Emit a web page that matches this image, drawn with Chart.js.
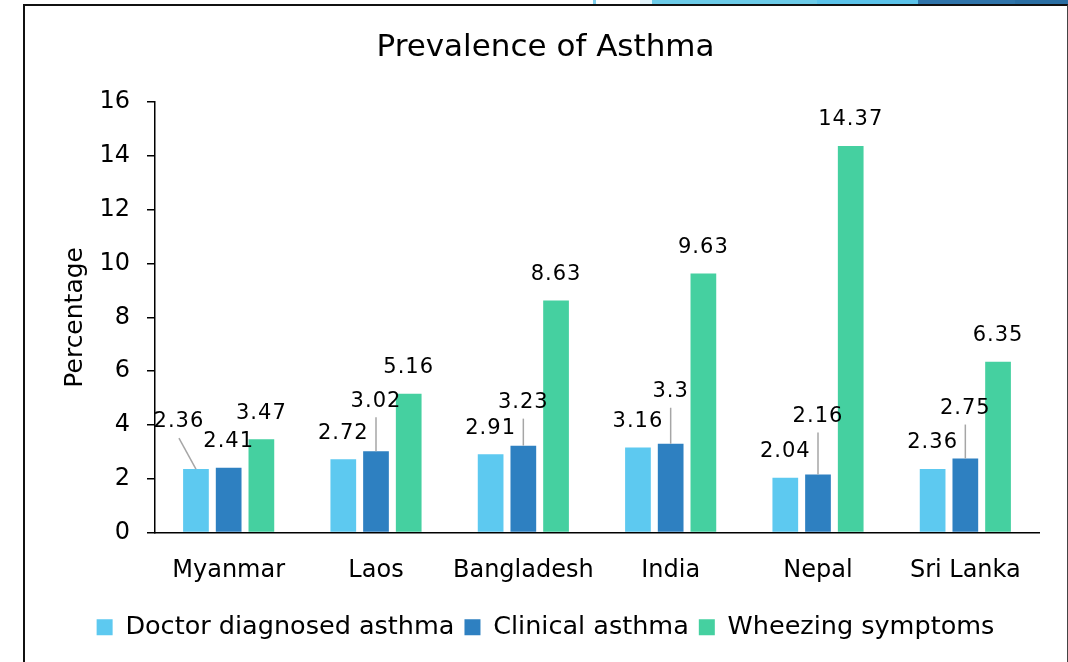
<!DOCTYPE html>
<html>
<head>
<meta charset="utf-8">
<script src="https://cdn.jsdelivr.net/npm/chart.js@4"></script>
<style>
  body { margin: 0; background: #fff; width: 1068px; height: 662px; overflow: hidden; position: relative; }
  .strip { position: absolute; top: 0; height: 4px; }
  #frame { position: absolute; left: 23px; top: 4px; width: 1042px; height: 700px;
           border-left: 2px solid #111; border-top: 2px solid #111; border-right: 1px solid #444; }
  #chartWrap { position: absolute; left: 25px; top: 6px; }
</style>
</head>
<body>
<div class="strip" style="left:593px;width:3px;background:#7fd0ee"></div>
<div class="strip" style="left:640px;width:12px;background:#e3f4fb"></div>
<div class="strip" style="left:652px;width:165px;background:#6ccbe8"></div>
<div class="strip" style="left:817px;width:101px;background:#5bc3ea"></div>
<div class="strip" style="left:918px;width:97px;background:#2f74aa"></div>
<div class="strip" style="left:1015px;width:53px;background:#2a6ea3"></div>
<div id="frame"></div>
<div id="chartWrap"><canvas id="asthma" width="1041" height="656"></canvas></div>
<script>
const countries = ['Myanmar', 'Laos', 'Bangladesh', 'India', 'Nepal', 'Sri Lanka'];
const doctorDiagnosed = [2.36, 2.72, 2.91, 3.16, 2.04, 2.36];
const clinicalAsthma = [2.41, 3.02, 3.23, 3.3, 2.16, 2.75];
const wheezingSymptoms = [3.47, 5.16, 8.63, 9.63, 14.37, 6.35];
const yTicks = [0, 2, 4, 6, 8, 10, 12, 14, 16];

const FONT = '"DejaVu Sans", sans-serif';

// where each value label sits relative to the top of its bar (pixels), and whether a leader line is drawn
const labelPlacement = [
    [{dx: -17, dy: -47, leader: true}, {}, {}, {}, {}, {}],
    [{}, {dy: -50, leader: true}, {dy: -43, leader: true}, {dy: -52, leader: true}, {dy: -58, leader: true}, {dy: -50, leader: true}],
    [{}, {}, {}, {}, {}, {}]
];

const valueLabels = {
    id: 'valueLabels',
    afterDatasetsDraw(chart) {
        const ctx = chart.ctx;
        ctx.save();
        ctx.font = '21px ' + FONT;
        ctx.letterSpacing = '1px';
        ctx.textAlign = 'center';
        ctx.textBaseline = 'middle';
        chart.data.datasets.forEach((ds, di) => {
            const meta = chart.getDatasetMeta(di);
            meta.data.forEach((bar, i) => {
                const p = labelPlacement[di][i] || {};
                const lx = bar.x + (p.dx || 0);
                const ly = bar.y + (p.dy !== undefined ? p.dy : -26);
                if (p.leader) {
                    ctx.strokeStyle = '#a6a6a6';
                    ctx.lineWidth = 1.5;
                    ctx.beginPath();
                    ctx.moveTo(lx, ly + 16);
                    ctx.lineTo(bar.x, bar.y);
                    ctx.stroke();
                }
                ctx.fillStyle = '#000';
                ctx.fillText(String(ds.data[i]), lx, ly);
            });
        });
        ctx.restore();
    }
};

new Chart(document.getElementById('asthma'), {
    type: 'bar',
    data: {
        labels: countries,
        datasets: [{
            label: 'Doctor diagnosed asthma',
            data: doctorDiagnosed,
            backgroundColor: '#5dc9f0',
        }, {
            label: 'Clinical asthma',
            data: clinicalAsthma,
            backgroundColor: '#2e80c1',
        }, {
            label: 'Wheezing symptoms',
            data: wheezingSymptoms,
            backgroundColor: '#45d0a0',
        }],
    },
    options: {
        responsive: false,
        animation: false,
        datasets: {
            bar: { categoryPercentage: 0.666, barPercentage: 0.786 }
        },
        layout: { padding: { top: 0, right: 0, bottom: 12, left: 0 } },
        plugins: {
            title: {
                display: true,
                text: 'Prevalence of Asthma',
                color: '#000',
                font: { family: FONT, size: 31, weight: 'normal' },
                padding: { top: 23, bottom: 36 }
            },
            legend: {
                position: 'bottom',
                labels: {
                    color: '#000',
                    font: { family: FONT, size: 25.5 },
                    boxWidth: 16,
                    boxHeight: 16,
                    padding: 10
                }
            },
            tooltip: { enabled: false }
        },
        scales: {
            x: {
                grid: { display: false, drawTicks: false },
                border: { color: '#000', width: 1.5 },
                ticks: { color: '#000', font: { family: FONT, size: 24 }, padding: 24 },
                afterFit(scale) { scale.height = 72; }
            },
            y: {
                min: 0,
                max: 16,
                afterBuildTicks(scale) { scale.ticks = yTicks.map(v => ({ value: v })); },
                grid: { drawOnChartArea: false, drawTicks: true, tickLength: 8, color: '#000', lineWidth: 1.5 },
                border: { color: '#000', width: 1.5 },
                ticks: { color: '#000', font: { family: FONT, size: 24 }, padding: 17 },
                title: {
                    display: true,
                    text: 'Percentage',
                    color: '#000',
                    font: { family: FONT, size: 25 },
                    padding: { top: 35 }
                },
                afterFit(scale) { scale.width = 130; }
            },
            // empty right-hand box so the plot stops short of the frame while title and legend stay centred
            yRight: {
                position: 'right',
                grid: { display: false },
                border: { display: false },
                ticks: { display: false },
                afterFit(scale) { scale.width = 27; }
            }
        }
    },
    plugins: [valueLabels]
});
</script>
</body>
</html>
